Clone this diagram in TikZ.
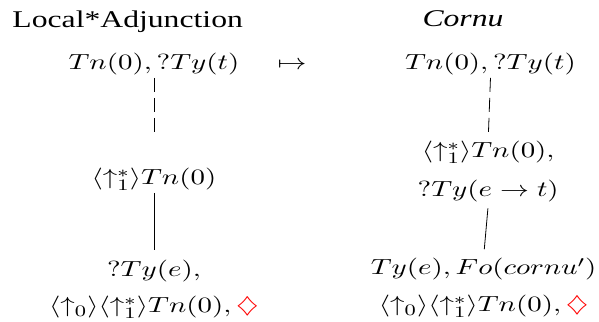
\documentclass[tikz,border=0pt,11pt]{standalone}
\usepackage[no-math]{fontspec}
\setmainfont{Liberation Serif}
\tikzset{
  tree/.style={anchor=base, inner sep=1pt, align=center},
  rulename/.style={anchor=base, inner sep=1pt, font=\large},
  dashedge/.style={dash pattern=on 7pt off 3pt},
}
\begin{document}
\begin{tikzpicture}[xscale=1.32, transform shape]
  \useasboundingbox (0,0) rectangle (7.976,5.659);
  % rule names
  \node[rulename] (lname) at (1.70,5.167) {Local*Adjunction};
  \node[rulename] (rname) at (6.165,5.185) {\textit{Cornu}};
  \node[tree] (maps) at (3.888,4.429) {$\mapsto$};
  % input tree
  \node[tree] (ltop) at (2.05,4.429) {$Tn(0), ?Ty(t)$};
  \node[tree] (lmid) at (2.05,2.408) {$\langle\uparrow_1^*\rangle Tn(0)$};
  \node[tree] (lbot) at (2.05,0.158) {$?Ty(e),$\\[4.4pt]$\langle\uparrow_0\rangle\langle\uparrow_1^*\rangle Tn(0), {\color{red}\diamondsuit}$};
  \draw[dashedge, shorten >=15.75pt] (ltop.south) -- (lmid.north);
  \draw[shorten >=4.25pt] (lmid.south) -- (lbot.north);
  % output tree
  \node[tree] (rtop) at (6.53,4.429) {$Tn(0), ?Ty(t)$};
  \node[tree] (rmid) at (6.50,2.197) {$\langle\uparrow_1^*\rangle Tn(0),$\\[5.9pt]$?Ty(e\rightarrow t)$};
  \node[tree] (rbot) at (6.44,0.176) {$Ty(e), Fo(cornu')$\\[4.9pt]$\langle\uparrow_0\rangle\langle\uparrow_1^*\rangle Tn(0), {\color{red}\diamondsuit}$};
  \draw[dashedge, shorten >=2.25pt] (rtop.south) -- (rmid.north);
  \draw[shorten <=1.75pt, shorten >=3.25pt] (rmid.south) -- (rbot.north);
\end{tikzpicture}
\end{document}
